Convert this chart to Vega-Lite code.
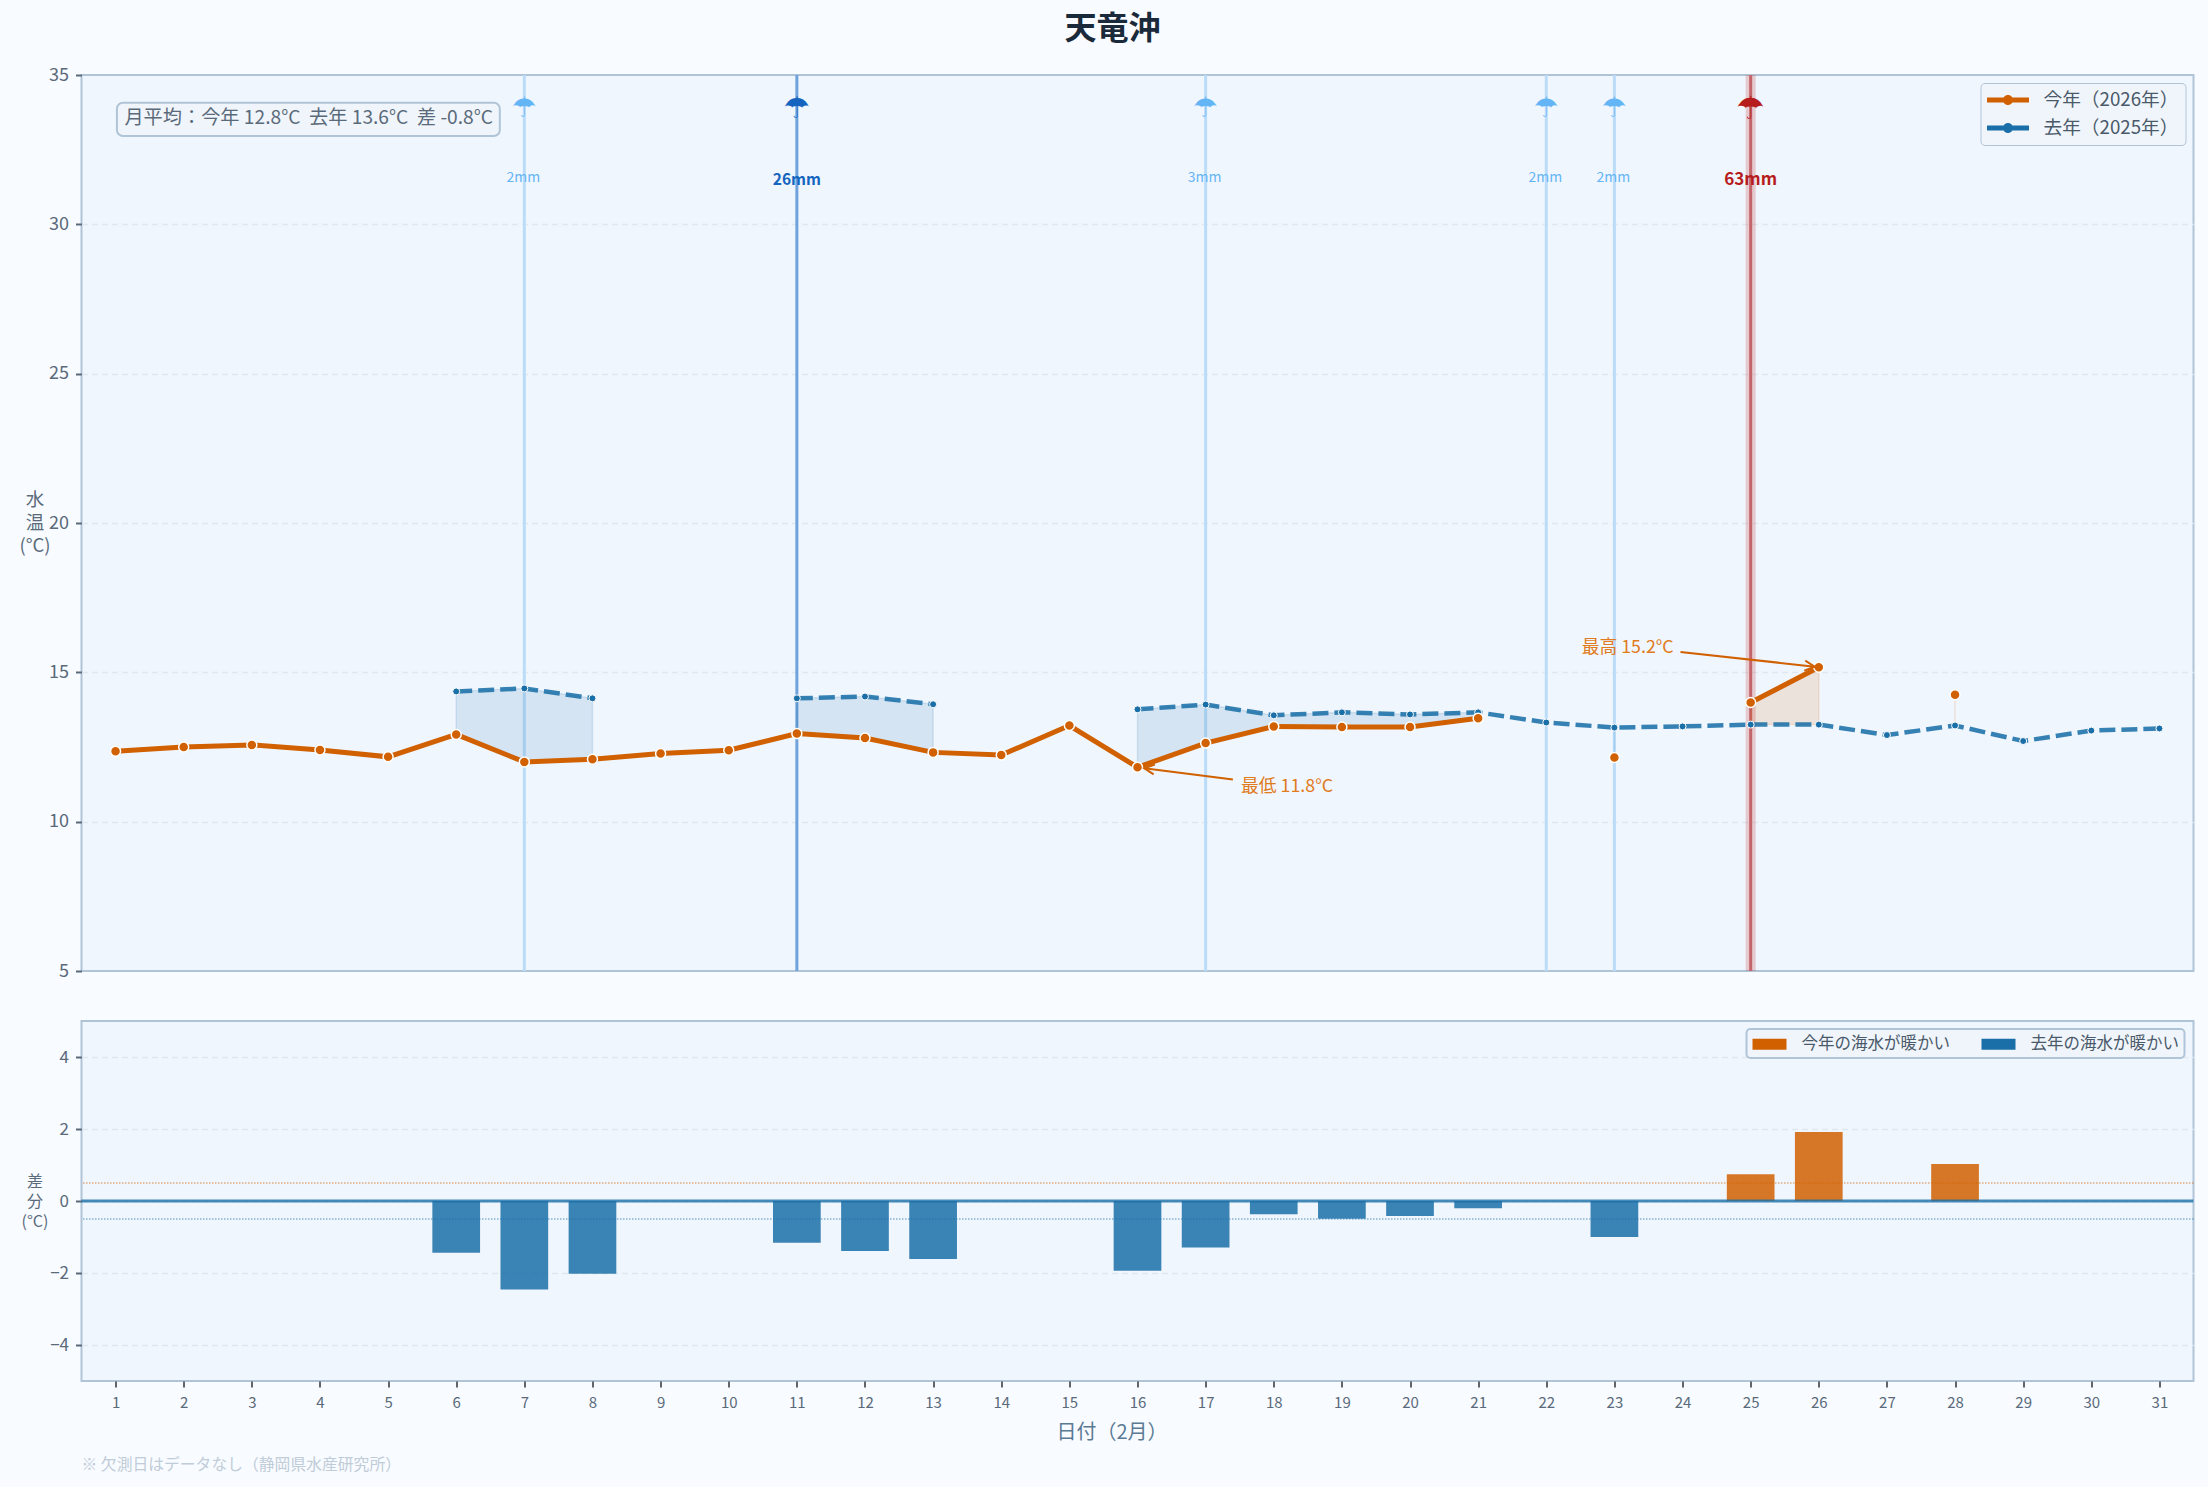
{
  "$schema": "https://vega.github.io/schema/vega-lite/v6.json",
  "background": "#f8fbff",
  "padding": {"left": 17.5, "top": 13, "right": 12, "bottom": 12},
  "title": {"text": "天竜沖", "fontSize": 32, "fontWeight": "bold", "color": "#1a2a3a", "anchor": "middle", "frame": "group", "offset": 19, "dx": -25},
  "config": {
    "font": "Noto Sans CJK JP",
    "view": {"fill": "#f0f6fd", "stroke": "#b0c4d8", "strokeWidth": 2}
  },
  "datasets": {
    "temps": [
      {"day": 1, "series": "今年（2026年）", "temp": 12.36},
      {"day": 2, "series": "今年（2026年）", "temp": 12.5},
      {"day": 3, "series": "今年（2026年）", "temp": 12.57},
      {"day": 4, "series": "今年（2026年）", "temp": 12.4},
      {"day": 5, "series": "今年（2026年）", "temp": 12.17},
      {"day": 6, "series": "今年（2026年）", "temp": 12.92},
      {"day": 7, "series": "今年（2026年）", "temp": 12.0},
      {"day": 8, "series": "今年（2026年）", "temp": 12.09},
      {"day": 9, "series": "今年（2026年）", "temp": 12.28},
      {"day": 10, "series": "今年（2026年）", "temp": 12.39},
      {"day": 11, "series": "今年（2026年）", "temp": 12.95},
      {"day": 12, "series": "今年（2026年）", "temp": 12.8},
      {"day": 13, "series": "今年（2026年）", "temp": 12.32},
      {"day": 14, "series": "今年（2026年）", "temp": 12.23},
      {"day": 15, "series": "今年（2026年）", "temp": 13.22},
      {"day": 16, "series": "今年（2026年）", "temp": 11.82},
      {"day": 17, "series": "今年（2026年）", "temp": 12.63},
      {"day": 18, "series": "今年（2026年）", "temp": 13.19},
      {"day": 19, "series": "今年（2026年）", "temp": 13.17},
      {"day": 20, "series": "今年（2026年）", "temp": 13.17},
      {"day": 21, "series": "今年（2026年）", "temp": 13.46},
      {"day": 22, "series": "今年（2026年）", "temp": null},
      {"day": 23, "series": "今年（2026年）", "temp": 12.15},
      {"day": 24, "series": "今年（2026年）", "temp": null},
      {"day": 25, "series": "今年（2026年）", "temp": 13.99},
      {"day": 26, "series": "今年（2026年）", "temp": 15.17},
      {"day": 27, "series": "今年（2026年）", "temp": null},
      {"day": 28, "series": "今年（2026年）", "temp": 14.25},
      {"day": 5, "series": "去年（2025年）", "temp": null},
      {"day": 6, "series": "去年（2025年）", "temp": 14.36},
      {"day": 7, "series": "去年（2025年）", "temp": 14.46},
      {"day": 8, "series": "去年（2025年）", "temp": 14.13},
      {"day": 9, "series": "去年（2025年）", "temp": null},
      {"day": 11, "series": "去年（2025年）", "temp": 14.13},
      {"day": 12, "series": "去年（2025年）", "temp": 14.19},
      {"day": 13, "series": "去年（2025年）", "temp": 13.93},
      {"day": 14, "series": "去年（2025年）", "temp": null},
      {"day": 16, "series": "去年（2025年）", "temp": 13.76},
      {"day": 17, "series": "去年（2025年）", "temp": 13.92},
      {"day": 18, "series": "去年（2025年）", "temp": 13.56},
      {"day": 19, "series": "去年（2025年）", "temp": 13.66},
      {"day": 20, "series": "去年（2025年）", "temp": 13.59},
      {"day": 21, "series": "去年（2025年）", "temp": 13.66},
      {"day": 22, "series": "去年（2025年）", "temp": 13.32},
      {"day": 23, "series": "去年（2025年）", "temp": 13.15},
      {"day": 24, "series": "去年（2025年）", "temp": 13.19},
      {"day": 25, "series": "去年（2025年）", "temp": 13.25},
      {"day": 26, "series": "去年（2025年）", "temp": 13.25},
      {"day": 27, "series": "去年（2025年）", "temp": 12.9},
      {"day": 28, "series": "去年（2025年）", "temp": 13.22},
      {"day": 29, "series": "去年（2025年）", "temp": 12.7},
      {"day": 30, "series": "去年（2025年）", "temp": 13.05},
      {"day": 31, "series": "去年（2025年）", "temp": 13.12}
    ],
    "gaps": [
      {"day": 6, "run": "a", "warmer": "去年（2025年）", "now": 12.92, "last": 14.36},
      {"day": 7, "run": "a", "warmer": "去年（2025年）", "now": 12.0, "last": 14.46},
      {"day": 8, "run": "a", "warmer": "去年（2025年）", "now": 12.09, "last": 14.13},
      {"day": 11, "run": "b", "warmer": "去年（2025年）", "now": 12.95, "last": 14.13},
      {"day": 12, "run": "b", "warmer": "去年（2025年）", "now": 12.8, "last": 14.19},
      {"day": 13, "run": "b", "warmer": "去年（2025年）", "now": 12.32, "last": 13.93},
      {"day": 16, "run": "c", "warmer": "去年（2025年）", "now": 11.82, "last": 13.76},
      {"day": 17, "run": "c", "warmer": "去年（2025年）", "now": 12.63, "last": 13.92},
      {"day": 18, "run": "c", "warmer": "去年（2025年）", "now": 13.19, "last": 13.56},
      {"day": 19, "run": "c", "warmer": "去年（2025年）", "now": 13.17, "last": 13.66},
      {"day": 20, "run": "c", "warmer": "去年（2025年）", "now": 13.17, "last": 13.59},
      {"day": 21, "run": "c", "warmer": "去年（2025年）", "now": 13.46, "last": 13.66},
      {"day": 23, "run": "d", "warmer": "去年（2025年）", "now": 12.15, "last": 13.15},
      {"day": 25, "run": "e", "warmer": "今年（2026年）", "now": 13.99, "last": 13.25},
      {"day": 26, "run": "e", "warmer": "今年（2026年）", "now": 15.17, "last": 13.25},
      {"day": 28, "run": "f", "warmer": "今年（2026年）", "now": 14.25, "last": 13.22}
    ],
    "rain": [
      {"day": 7, "mm": 2, "level": "light", "label": "2mm", "icon": "☂"},
      {"day": 11, "mm": 26, "level": "mid", "label": "26mm", "icon": "☂"},
      {"day": 17, "mm": 3, "level": "light", "label": "3mm", "icon": "☂"},
      {"day": 22, "mm": 2, "level": "light", "label": "2mm", "icon": "☂"},
      {"day": 23, "mm": 2, "level": "light", "label": "2mm", "icon": "☂"},
      {"day": 25, "mm": 63, "level": "heavy", "label": "63mm", "icon": "☂"}
    ],
    "diffs": [
      {"day": 6, "diff": -1.44, "side": "去年の海水が暖かい"},
      {"day": 7, "diff": -2.46, "side": "去年の海水が暖かい"},
      {"day": 8, "diff": -2.02, "side": "去年の海水が暖かい"},
      {"day": 11, "diff": -1.16, "side": "去年の海水が暖かい"},
      {"day": 12, "diff": -1.39, "side": "去年の海水が暖かい"},
      {"day": 13, "diff": -1.61, "side": "去年の海水が暖かい"},
      {"day": 16, "diff": -1.94, "side": "去年の海水が暖かい"},
      {"day": 17, "diff": -1.29, "side": "去年の海水が暖かい"},
      {"day": 18, "diff": -0.37, "side": "去年の海水が暖かい"},
      {"day": 19, "diff": -0.49, "side": "去年の海水が暖かい"},
      {"day": 20, "diff": -0.42, "side": "去年の海水が暖かい"},
      {"day": 21, "diff": -0.2, "side": "去年の海水が暖かい"},
      {"day": 23, "diff": -1.0, "side": "去年の海水が暖かい"},
      {"day": 25, "diff": 0.74, "side": "今年の海水が暖かい"},
      {"day": 26, "diff": 1.92, "side": "今年の海水が暖かい"},
      {"day": 28, "diff": 1.03, "side": "今年の海水が暖かい"}
    ]
  },
  "bounds": "flush",
  "spacing": 50,
  "resolve": {"scale": {"color": "independent", "stroke": "independent", "size": "independent"}},
  "vconcat": [
    {
      "width": 2112,
      "height": 896,
      "resolve": {"scale": {"color": "independent", "stroke": "independent", "size": "independent"}},
      "layer": [
        {
          "data": {"name": "rain"},
          "transform": [{"filter": "datum.level == 'heavy'"}],
          "mark": {"type": "rule", "color": "#b71c1c", "opacity": 0.2, "strokeWidth": 10},
          "encoding": {
            "x": {"field": "day", "type": "quantitative", "scale": {"domain": [0.5, 31.5], "nice": false, "zero": false}, "axis": null}
          }
        },
        {
          "data": {"name": "rain"},
          "mark": {"type": "rule", "strokeWidth": 3},
          "encoding": {
            "x": {"field": "day", "type": "quantitative", "scale": {"domain": [0.5, 31.5], "nice": false, "zero": false}, "axis": null},
            "color": {"field": "level", "type": "nominal", "legend": null, "scale": {"domain": ["light", "mid", "heavy"], "range": ["#bbdcf9", "#6fa3dc", "#c4656b"]}}
          }
        },
        {
          "data": {"name": "gaps"},
          "mark": {"type": "area", "fillOpacity": 0.13, "strokeOpacity": 0.14, "strokeWidth": 1.5},
          "encoding": {
            "x": {"field": "day", "type": "quantitative", "scale": {"domain": [0.5, 31.5], "nice": false, "zero": false}, "axis": null},
            "y": {
              "field": "now", "type": "quantitative",
              "scale": {"domain": [5, 35], "nice": false, "zero": false},
              "axis": {
                "values": [5, 10, 15, 20, 25, 30, 35],
                "title": ["水", "温", "(°C)"],
                "titleAngle": 0, "titleAlign": "center", "titleBaseline": "middle",
                "titleX": -47, "titleY": 424,
                "titleFontSize": 18.5, "titleFontWeight": "normal", "titleColor": "#5b6b7b", "titleLineHeight": 23,
                "domain": false,
                "ticks": true, "tickSize": 6, "tickWidth": 2, "tickColor": "#5a6a7a",
                "labelFontSize": 18, "labelColor": "#5a6a7a", "labelPadding": 7,
                "grid": true, "gridColor": "#dfe8f1", "gridDash": [6, 4], "gridWidth": 1.5,
                "gridOpacity": {"condition": {"test": "datum.value <= 5 || datum.value >= 35", "value": 0}, "value": 1}
              }
            },
            "y2": {"field": "last"},
            "color": {"field": "warmer", "type": "nominal", "legend": null, "scale": {"domain": ["今年（2026年）", "去年（2025年）"], "range": ["#d06000", "#1a6fa8"]}},
            "stroke": {"field": "warmer", "type": "nominal", "legend": null, "scale": {"domain": ["今年（2026年）", "去年（2025年）"], "range": ["#d06000", "#1a6fa8"]}},
            "detail": {"field": "run"}
          }
        },
        {
          "data": {"name": "temps"},
          "transform": [{"filter": "datum.series == '去年（2025年）'"}],
          "mark": {"type": "line", "strokeWidth": 4.5, "strokeDash": [16, 6], "opacity": 0.87},
          "encoding": {
            "x": {"field": "day", "type": "quantitative", "scale": {"domain": [0.5, 31.5], "nice": false, "zero": false}, "axis": null},
            "y": {"field": "temp", "type": "quantitative", "scale": {"domain": [5, 35], "nice": false, "zero": false}},
            "color": {"field": "series", "type": "nominal", "legend": null, "scale": {"domain": ["今年（2026年）", "去年（2025年）"], "range": ["#d06000", "#1a6fa8"]}}
          }
        },
        {
          "data": {"name": "temps"},
          "transform": [{"filter": "datum.series == '今年（2026年）'"}],
          "mark": {"type": "line", "strokeWidth": 5},
          "encoding": {
            "x": {"field": "day", "type": "quantitative", "scale": {"domain": [0.5, 31.5], "nice": false, "zero": false}, "axis": null},
            "y": {"field": "temp", "type": "quantitative", "scale": {"domain": [5, 35], "nice": false, "zero": false}},
            "color": {"field": "series", "type": "nominal", "legend": null, "scale": {"domain": ["今年（2026年）", "去年（2025年）"], "range": ["#d06000", "#1a6fa8"]}}
          }
        },
        {
          "data": {"name": "temps"},
          "transform": [{"filter": "datum.temp != null && datum.series == '去年（2025年）'"}],
          "mark": {"type": "point", "filled": true, "opacity": 1, "size": 49, "stroke": "#ffffff", "strokeWidth": 1},
          "encoding": {
            "x": {"field": "day", "type": "quantitative", "scale": {"domain": [0.5, 31.5], "nice": false, "zero": false}, "axis": null},
            "y": {"field": "temp", "type": "quantitative", "scale": {"domain": [5, 35], "nice": false, "zero": false}},
            "color": {"field": "series", "type": "nominal", "legend": null, "scale": {"domain": ["今年（2026年）", "去年（2025年）"], "range": ["#d06000", "#1a6fa8"]}}
          }
        },
        {
          "data": {"name": "temps"},
          "transform": [{"filter": "datum.temp != null"}, {"filter": "datum.series == '今年（2026年）'"}],
          "mark": {"type": "point", "filled": true, "opacity": 1, "size": 100, "stroke": "#ffffff", "strokeWidth": 1.5},
          "encoding": {
            "x": {"field": "day", "type": "quantitative", "scale": {"domain": [0.5, 31.5], "nice": false, "zero": false}, "axis": null},
            "y": {"field": "temp", "type": "quantitative", "scale": {"domain": [5, 35], "nice": false, "zero": false}},
            "color": {
              "field": "series", "type": "nominal",
              "scale": {"domain": ["今年（2026年）", "去年（2025年）"], "range": ["#d06000", "#1a6fa8"]},
              "legend": {
                "title": null, "orient": "none", "legendX": 1899, "legendY": 8,
                "values": ["今年（2026年）", "去年（2025年）"],
                "symbolType": "M-1.05,-0.25H3.15V0.25H-1.05Z M0.55,0A0.5,0.5 0 1,1 1.55,0A0.5,0.5 0 1,1 0.55,0Z",
                "symbolSize": 400, "symbolStrokeWidth": 0, "symbolOpacity": 1,
                "labelFontSize": 18.7, "labelColor": "#4a5a6a", "labelOffset": 36, "rowPadding": 8,
                "labelExpr": "datum.label + '\u00a0\u00a0'",
                "fillColor": "#f0f5fb", "strokeColor": "#b0c4d8", "cornerRadius": 4, "padding": 7,
                "encode": {"legend": {"update": {"strokeWidth": {"value": 2}}}}
              }
            }
          }
        },
        {
          "data": {"name": "rain"},
          "mark": {"type": "text", "font": "DejaVu Sans", "baseline": "middle"},
          "encoding": {
            "x": {"field": "day", "type": "quantitative", "scale": {"domain": [0.5, 31.5], "nice": false, "zero": false}, "axis": null},
            "y": {"datum": 33.85, "type": "quantitative", "scale": {"domain": [5, 35], "nice": false, "zero": false}},
            "text": {"field": "icon"},
            "size": {"field": "level", "type": "nominal", "legend": null, "scale": {"domain": ["light", "mid", "heavy"], "range": [28, 32, 36]}},
            "color": {"field": "level", "type": "nominal", "legend": null, "scale": {"domain": ["light", "mid", "heavy"], "range": ["#64b5f6", "#1565c0", "#b71c1c"]}}
          }
        },
        {
          "data": {"name": "rain"},
          "transform": [{"filter": "datum.level == 'light'"}],
          "mark": {"type": "text", "fontSize": 14, "color": "#64b5f6", "baseline": "middle", "dx": -1},
          "encoding": {
            "x": {"field": "day", "type": "quantitative", "scale": {"domain": [0.5, 31.5], "nice": false, "zero": false}, "axis": null},
            "y": {"datum": 31.56, "type": "quantitative", "scale": {"domain": [5, 35], "nice": false, "zero": false}},
            "text": {"field": "label"}
          }
        },
        {
          "data": {"name": "rain"},
          "transform": [{"filter": "datum.level != 'light'"}],
          "mark": {"type": "text", "fontWeight": "bold", "baseline": "middle"},
          "encoding": {
            "x": {"field": "day", "type": "quantitative", "scale": {"domain": [0.5, 31.5], "nice": false, "zero": false}, "axis": null},
            "y": {"datum": 31.5, "type": "quantitative", "scale": {"domain": [5, 35], "nice": false, "zero": false}},
            "text": {"field": "label"},
            "size": {"field": "level", "type": "nominal", "legend": null, "scale": {"domain": ["mid", "heavy"], "range": [15.5, 17]}},
            "color": {"field": "level", "type": "nominal", "legend": null, "scale": {"domain": ["light", "mid", "heavy"], "range": ["#64b5f6", "#1565c0", "#b71c1c"]}}
          }
        },
        {
          "data": {"values": [{"label": "月平均：今年 12.8°C\u00a0\u00a0去年 13.6°C\u00a0\u00a0差 -0.8°C"}]},
          "layer": [
            {
              "mark": {"type": "rect", "fill": "#f0f5fb", "stroke": "#b0c4d8", "strokeWidth": 2, "cornerRadius": 6},
              "encoding": {
                "x": {"datum": 1.02, "type": "quantitative", "scale": {"domain": [0.5, 31.5], "nice": false, "zero": false}, "axis": null},
                "x2": {"datum": 6.64},
                "y": {"datum": 34.07, "type": "quantitative", "scale": {"domain": [5, 35], "nice": false, "zero": false}},
                "y2": {"datum": 32.96}
              }
            },
            {
              "mark": {"type": "text", "align": "left", "baseline": "middle", "fontSize": 19.2, "color": "#5a6a7a"},
              "encoding": {
                "x": {"datum": 1.13, "type": "quantitative", "scale": {"domain": [0.5, 31.5], "nice": false, "zero": false}, "axis": null},
                "y": {"datum": 33.55, "type": "quantitative", "scale": {"domain": [5, 35], "nice": false, "zero": false}},
                "text": {"field": "label"}
              }
            }
          ]
        },
        {
          "data": {"values": [{"label": "最低 11.8°C"}]},
          "layer": [
            {
              "mark": {"type": "rule", "color": "#d06000", "strokeWidth": 2},
              "encoding": {
                "x": {"datum": 17.4, "type": "quantitative", "scale": {"domain": [0.5, 31.5], "nice": false, "zero": false}, "axis": null},
                "x2": {"datum": 16.1},
                "y": {"datum": 11.41, "type": "quantitative", "scale": {"domain": [5, 35], "nice": false, "zero": false}},
                "y2": {"datum": 11.79}
              }
            },
            {
              "mark": {"type": "point", "shape": "M-1,-0.5L0,0L-1,0.5", "size": 400, "angle": 187, "stroke": "#d06000", "strokeWidth": 2, "fill": null, "opacity": 1},
              "encoding": {
                "x": {"datum": 16.1, "type": "quantitative", "scale": {"domain": [0.5, 31.5], "nice": false, "zero": false}, "axis": null},
                "y": {"datum": 11.79, "type": "quantitative", "scale": {"domain": [5, 35], "nice": false, "zero": false}}
              }
            },
            {
              "mark": {"type": "text", "align": "left", "baseline": "middle", "fontSize": 17.8, "color": "#e07b20"},
              "encoding": {
                "x": {"datum": 17.52, "type": "quantitative", "scale": {"domain": [0.5, 31.5], "nice": false, "zero": false}, "axis": null},
                "y": {"datum": 11.17, "type": "quantitative", "scale": {"domain": [5, 35], "nice": false, "zero": false}},
                "text": {"field": "label"}
              }
            }
          ]
        },
        {
          "data": {"values": [{"label": "最高 15.2°C"}]},
          "layer": [
            {
              "mark": {"type": "rule", "color": "#d06000", "strokeWidth": 2},
              "encoding": {
                "x": {"datum": 23.97, "type": "quantitative", "scale": {"domain": [0.5, 31.5], "nice": false, "zero": false}, "axis": null},
                "x2": {"datum": 25.94},
                "y": {"datum": 15.68, "type": "quantitative", "scale": {"domain": [5, 35], "nice": false, "zero": false}},
                "y2": {"datum": 15.19}
              }
            },
            {
              "mark": {"type": "point", "shape": "M-1,-0.5L0,0L-1,0.5", "size": 400, "angle": 6, "stroke": "#d06000", "strokeWidth": 2, "fill": null, "opacity": 1},
              "encoding": {
                "x": {"datum": 25.94, "type": "quantitative", "scale": {"domain": [0.5, 31.5], "nice": false, "zero": false}, "axis": null},
                "y": {"datum": 15.19, "type": "quantitative", "scale": {"domain": [5, 35], "nice": false, "zero": false}}
              }
            },
            {
              "mark": {"type": "text", "align": "left", "baseline": "middle", "fontSize": 17.8, "color": "#e07b20"},
              "encoding": {
                "x": {"datum": 22.52, "type": "quantitative", "scale": {"domain": [0.5, 31.5], "nice": false, "zero": false}, "axis": null},
                "y": {"datum": 15.8, "type": "quantitative", "scale": {"domain": [5, 35], "nice": false, "zero": false}},
                "text": {"field": "label"}
              }
            }
          ]
        }
      ]
    },
    {
      "width": 2112,
      "height": 360,
      "layer": [
        {
          "data": {"name": "diffs"},
          "mark": {"type": "bar", "width": 47.7, "opacity": 0.85},
          "encoding": {
            "x": {
              "field": "day", "type": "quantitative",
              "scale": {"domain": [0.5, 31.5], "nice": false, "zero": false, "padding": 0},
              "axis": {
                "values": [1, 2, 3, 4, 5, 6, 7, 8, 9, 10, 11, 12, 13, 14, 15, 16, 17, 18, 19, 20, 21, 22, 23, 24, 25, 26, 27, 28, 29, 30, 31],
                "format": "d", "title": "日付（2月）",
                "titleFontSize": 20, "titleFontWeight": "normal", "titleColor": "#5a7a94",
                "titleX": 1030, "titleY": 51, "titleAnchor": null, "titleBaseline": "middle",
                "domain": false, "grid": false,
                "tickSize": 6, "tickWidth": 1.5, "tickColor": "#333333",
                "labelFontSize": 15, "labelColor": "#5a6a7a", "labelPadding": 8, "labelFlush": false, "labelAngle": 0
              }
            },
            "y": {
              "field": "diff", "type": "quantitative",
              "scale": {"domain": [-5, 5], "nice": false, "zero": false, "padding": 0},
              "axis": {
                "values": [-4, -2, 0, 2, 4],
                "format": "d",
                "title": ["差", "分", "(°C)"],
                "titleAngle": 0, "titleAlign": "center", "titleBaseline": "middle",
                "titleX": -47, "titleY": 160,
                "titleFontSize": 16, "titleFontWeight": "normal", "titleColor": "#5b6b7b", "titleLineHeight": 20,
                "domain": false,
                "tickSize": 6, "tickWidth": 2, "tickColor": "#5a6a7a",
                "labelFontSize": 17, "labelColor": "#5a6a7a", "labelPadding": 7,
                "grid": true, "gridColor": "#dfe8f1", "gridDash": [6, 4], "gridWidth": 1.5
              }
            },
            "color": {
              "field": "side", "type": "nominal",
              "scale": {"domain": ["今年の海水が暖かい", "去年の海水が暖かい"], "range": ["#d06000", "#1a6fa8"]},
              "legend": {
                "title": null, "orient": "none", "legendX": 1665, "legendY": 8,
                "direction": "horizontal", "columns": 2, "columnPadding": 30,
                "symbolType": "M-0.9,-0.55H2.5V0.55H-0.9Z", "symbolSize": 400, "symbolStrokeWidth": 0, "symbolOpacity": 1,
                "labelFontSize": 16.5, "labelColor": "#4a5a6a", "labelOffset": 30,
                "labelExpr": "datum.label + '\u00a0'",
                "fillColor": "#f0f5fb", "strokeColor": "#b0c4d8", "cornerRadius": 4, "padding": 5,
                "encode": {"legend": {"update": {"strokeWidth": {"value": 2}}}}
              }
            }
          }
        },
        {
          "data": {"values": [{"level": 0}]},
          "mark": {"type": "rule", "color": "#1a6fa8", "strokeWidth": 3, "opacity": 0.8},
          "encoding": {"y": {"field": "level", "type": "quantitative", "scale": {"domain": [-5, 5], "nice": false, "zero": false}}}
        },
        {
          "data": {"values": [{"level": 0.5}]},
          "mark": {"type": "rule", "color": "#d06000", "strokeWidth": 1.4, "strokeDash": [1.5, 1.5], "opacity": 0.5},
          "encoding": {"y": {"field": "level", "type": "quantitative", "scale": {"domain": [-5, 5], "nice": false, "zero": false}}}
        },
        {
          "data": {"values": [{"level": -0.5}]},
          "mark": {"type": "rule", "color": "#1a6fa8", "strokeWidth": 1.4, "strokeDash": [1.5, 1.5], "opacity": 0.5},
          "encoding": {"y": {"field": "level", "type": "quantitative", "scale": {"domain": [-5, 5], "nice": false, "zero": false}}}
        },
        {
          "data": {"values": [{"label": "※ 欠測日はデータなし（静岡県水産研究所）"}]},
          "mark": {"type": "text", "align": "left", "baseline": "middle", "fontSize": 15.8, "color": "#c0ccd8"},
          "encoding": {
            "x": {"datum": 0.5, "type": "quantitative", "scale": {"domain": [0.5, 31.5], "nice": false, "zero": false, "padding": 0}},
            "y": {"datum": -7.34, "type": "quantitative", "scale": {"domain": [-5, 5], "nice": false, "zero": false}},
            "text": {"field": "label"}
          }
        }
      ]
    }
  ]
}
